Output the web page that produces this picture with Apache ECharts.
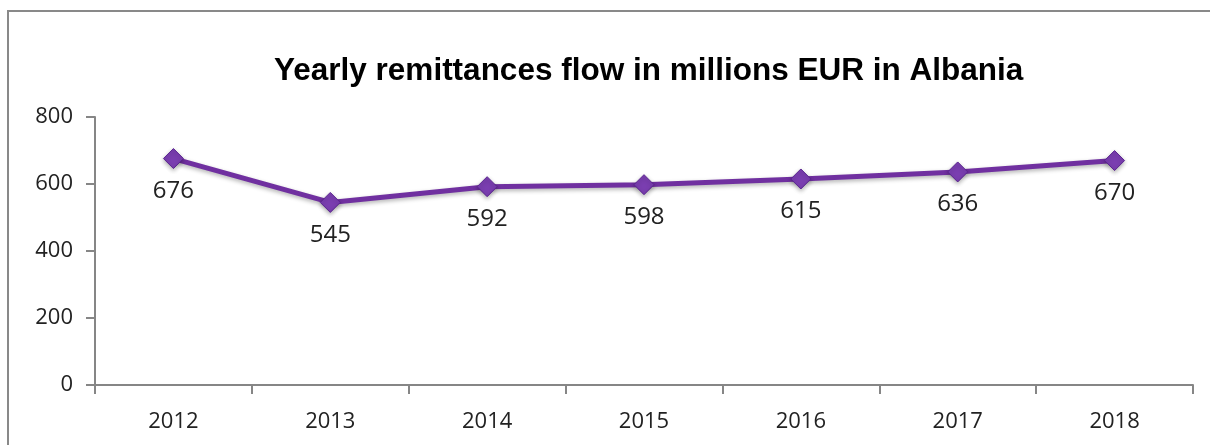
<!DOCTYPE html>
<html><head><meta charset="utf-8">
<script src="https://cdn.jsdelivr.net/npm/echarts@6/dist/echarts.min.js"></script>
<style>html,body{margin:0;padding:0;background:#fff}#c{width:1210px;height:445px}</style>
</head><body><div id="c"></div>
<script>
const categories = ['2012','2013','2014','2015','2016','2017','2018'];
const remittances = [676, 545, 592, 598, 615, 636, 670];
const yTicks = [0, 200, 400, 600, 800];

const chart = echarts.init(document.getElementById('c'), null, {renderer:'canvas'});
chart.setOption({
  backgroundColor:'#fff',
  animation:false,
  graphic:[{type:'rect',shape:{x:8,y:11,width:1220,height:460},style:{fill:'none',stroke:'#898989',lineWidth:2},silent:true}],
  title:{text:'Yearly remittances flow in millions EUR in Albania',left:269,top:50,
    textStyle:{fontFamily:'Liberation Sans',fontWeight:'bold',fontSize:31.5,color:'#000'}},
  grid:{left:95,right:17,top:117,bottom:60,containLabel:false},
  xAxis:{type:'category',data:categories,boundaryGap:true,
    axisLine:{lineStyle:{color:'#868686',width:2}},
    axisTick:{show:true,alignWithLabel:false,length:9,lineStyle:{color:'#868686',width:2}},
    axisLabel:{color:'#222',fontSize:22,fontFamily:'Open Sans',margin:26},
    splitLine:{show:false}},
  yAxis:{type:'value',min:yTicks[0],max:yTicks[yTicks.length-1],interval:200,
    axisLine:{show:true,lineStyle:{color:'#868686',width:2}},
    axisTick:{show:true,length:9,lineStyle:{color:'#868686',width:2}},
    axisLabel:{color:'#222',fontSize:22,fontFamily:'Open Sans',margin:22},
    splitLine:{show:false}},
  series:[{type:'line',data:remittances,
    lineStyle:{color:'#7030A0',width:5,shadowColor:'rgba(0,0,0,0.3)',shadowBlur:4,shadowOffsetY:2},
    symbol:'diamond',symbolSize:[20,20],
    itemStyle:{color:'#7a3eb0',borderColor:'#5a2490',borderWidth:1,shadowColor:'rgba(0,0,0,0.3)',shadowBlur:4,shadowOffsetY:2},
    label:{show:true,position:'bottom',distance:10,fontSize:24,fontFamily:'Open Sans',color:'#222'}
  }]
});
</script></body></html>
